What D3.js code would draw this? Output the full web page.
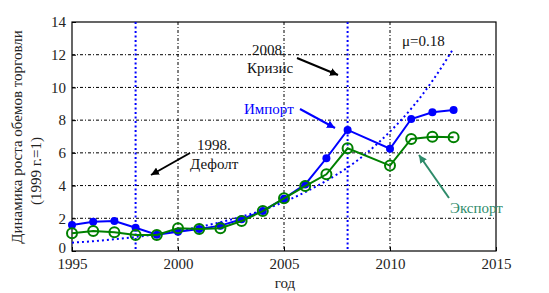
<!DOCTYPE html>
<html lang="ru">
<head>
<meta charset="UTF-8">
<script src="https://d3js.org/d3.v7.min.js"></script>
<style>
  body { margin: 0; background: #fff; }
  svg text { font-family: "Liberation Serif", "DejaVu Serif", serif !important; }
</style>
</head>
<body>
<svg id="chart"></svg>
<script>
// years with data (2009 is absent in the source)
const years = [1995, 1996, 1997, 1998, 1999, 2000, 2001, 2002, 2003, 2004, 2005, 2006, 2007, 2008, 2010, 2011, 2012, 2013];
const importVals = [1.59, 1.79, 1.83, 1.42, 1.0, 1.18, 1.35, 1.55, 1.94, 2.45, 3.2, 4.07, 5.67, 7.4, 6.25, 8.07, 8.48, 8.62];
const exportVals = [1.08, 1.22, 1.14, 0.98, 0.98, 1.39, 1.34, 1.39, 1.83, 2.44, 3.22, 3.97, 4.69, 6.28, 5.22, 6.85, 6.99, 6.95];
// dotted trend (mu = 0.18)
const trendYears = [1995, 1996, 1997, 1998, 1999, 2000, 2001, 2002, 2003, 2004, 2005, 2006, 2007, 2008, 2009, 2010, 2011, 2012, 2013];
const trendVals = [0.51, 0.6, 0.72, 0.86, 1.03, 1.23, 1.47, 1.76, 2.1, 2.5, 3.0, 3.6, 4.3, 5.1, 6.1, 7.3, 8.7, 10.4, 12.4];
const eventYears = [1998, 2008];
const xTicks = [1995, 2000, 2005, 2010, 2015];
const yTicks = [0, 2, 4, 6, 8, 10, 12, 14];

const W = 549, H = 293;
const margin = { top: 22, right: 53, bottom: 42, left: 72 };
const width = W - margin.left - margin.right;
const height = H - margin.top - margin.bottom;
const FONT = "'Liberation Serif', 'DejaVu Serif', serif";

const svg = d3.select("#chart").attr("width", W).attr("height", H);
const g = svg.append("g").attr("transform", `translate(${margin.left},${margin.top})`);

const x = d3.scaleLinear().domain([1995, 2015]).range([0, width]);
const y = d3.scaleLinear().domain([0, 14]).range([height, 0]);

// grid (dash-dot)
g.append("g").selectAll("line").data(xTicks.slice(1, -1)).join("line")
  .attr("x1", d => x(d)).attr("x2", d => x(d)).attr("y1", 0).attr("y2", height)
  .attr("stroke", "#000").attr("stroke-width", 1).attr("stroke-dasharray", "3,2,1,2");
g.append("g").selectAll("line").data(yTicks.slice(1, -1)).join("line")
  .attr("x1", 0).attr("x2", width).attr("y1", d => y(d)).attr("y2", d => y(d))
  .attr("stroke", "#000").attr("stroke-width", 1).attr("stroke-dasharray", "3,2,1,2");

// axes
const xAxis = g.append("g").attr("transform", `translate(0,${height})`)
  .call(d3.axisBottom(x).tickValues(xTicks).tickFormat(d3.format("d")).tickSizeInner(-4).tickSizeOuter(0).tickPadding(7));
const yAxis = g.append("g")
  .call(d3.axisLeft(y).tickValues(yTicks).tickSizeInner(-4).tickSizeOuter(0).tickPadding(6));
[xAxis, yAxis].forEach(a => {
  a.attr("font-family", FONT).attr("font-size", 15);
  a.select(".domain").remove();
  a.selectAll("text").attr("fill", "#222");
});
yAxis.selectAll(".tick text").filter(d => d === 0).attr("dy", "0.1em");

// box
g.append("rect").attr("width", width).attr("height", height)
  .attr("fill", "none").attr("stroke", "#000").attr("stroke-width", 1.2);

// event lines
g.selectAll(".ev").data(eventYears).join("line")
  .attr("x1", d => x(d)).attr("x2", d => x(d)).attr("y1", 0).attr("y2", height)
  .attr("stroke", "#0000ff").attr("stroke-width", 2).attr("stroke-dasharray", "2,2.5");

// trend
g.append("path").datum(trendYears.map((t, i) => [t, trendVals[i]]))
  .attr("d", d3.line().x(d => x(d[0])).y(d => y(d[1])).curve(d3.curveMonotoneX))
  .attr("fill", "none").attr("stroke", "#0000ff").attr("stroke-width", 2).attr("stroke-dasharray", "2,3");

const line = d3.line().x(d => x(d[0])).y(d => y(d[1]));
const imp = years.map((t, i) => [t, importVals[i]]);
const exp = years.map((t, i) => [t, exportVals[i]]);

g.append("path").datum(imp).attr("d", line).attr("fill", "none").attr("stroke", "#0000ff").attr("stroke-width", 2);
g.selectAll(".imp").data(imp).join("circle")
  .attr("cx", d => x(d[0])).attr("cy", d => y(d[1])).attr("r", 4).attr("fill", "#0000ff");

g.append("path").datum(exp).attr("d", line).attr("fill", "none").attr("stroke", "#008000").attr("stroke-width", 2);
g.selectAll(".exp").data(exp).join("circle")
  .attr("cx", d => x(d[0])).attr("cy", d => y(d[1])).attr("r", 5).attr("fill", "none")
  .attr("stroke", "#008000").attr("stroke-width", 2);

// arrow markers
function marker(id, color) {
  svg.append("defs").append("marker").attr("id", id)
    .attr("viewBox", "0 0 10 10").attr("refX", 10).attr("refY", 5)
    .attr("markerWidth", 4).attr("markerHeight", 4).attr("orient", "auto")
    .append("path").attr("d", "M0,0L10,5L0,10z").attr("fill", color);
}
marker("ab", "#000"); marker("ablue", "#0000ff"); marker("agreen", "#2e8b6a");

function arrow(x1, y1, x2, y2, color, id) {
  svg.append("line").attr("x1", x1).attr("y1", y1).attr("x2", x2).attr("y2", y2)
    .attr("stroke", color).attr("stroke-width", 2).attr("marker-end", `url(#${id})`);
}
function label(tx, ty, s, color, anchor = "start") {
  svg.append("text").attr("x", tx).attr("y", ty).attr("text-anchor", anchor)
    .attr("font-family", FONT).attr("font-size", 15).attr("fill", color).text(s);
}

label(252, 55, "2008.", "#111");
label(247, 73, "Кризис", "#111");
arrow(297, 58, 338, 75, "#000", "ab");

label(244, 114, "Импорт", "#0000ff");
arrow(300, 109, 335, 128, "#0000ff", "ablue");

label(197, 150, "1998.", "#111");
label(190, 169, "Дефолт", "#111");
arrow(190, 153, 151, 175, "#000", "ab");

label(402, 46, "μ=0.18", "#111");

label(450, 213, "Экспорт", "#2e8b6a");
arrow(449, 198, 419, 155, "#2e8b6a", "agreen");

// axis titles
function vlabel(cx, cy, s) {
  svg.append("text").attr("transform", `translate(${cx},${cy}) rotate(-90)`).attr("text-anchor", "middle")
    .attr("font-family", FONT).attr("font-size", 15).attr("fill", "#222").text(s);
}
vlabel(22, 137, "Динамика роста обемов торговли");
vlabel(41, 171, "(1999 г.=1)");
svg.append("text").attr("x", 285).attr("y", 288).attr("text-anchor", "middle")
  .attr("font-family", FONT).attr("font-size", 15).attr("fill", "#222").text("год");
</script>
</body>
</html>
